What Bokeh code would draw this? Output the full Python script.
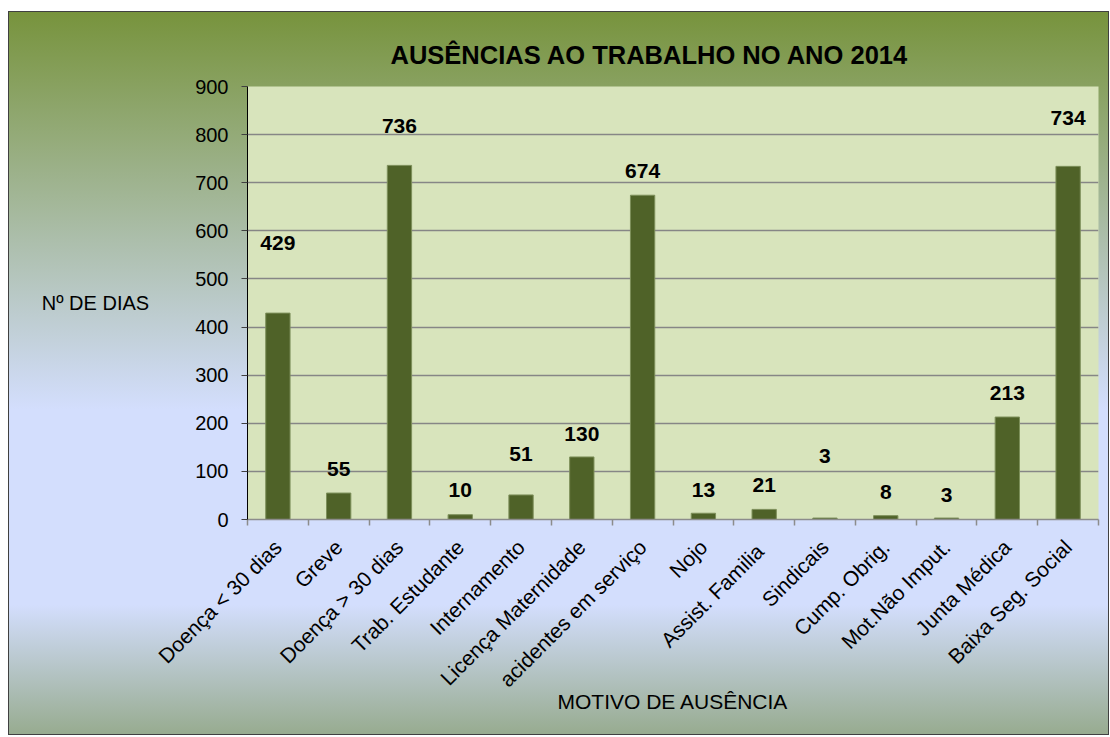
import math
import numpy as np
from bokeh.plotting import figure
from bokeh.models import ColumnDataSource, LabelSet, Range1d, FixedTicker
from bokeh.core.properties import value
from bokeh.embed import file_html
from bokeh.resources import INLINE

categories = ["Doença < 30 dias", "Greve", "Doença > 30 dias", "Trab. Estudante",
              "Internamento", "Licença Maternidade", "acidentes em serviço", "Nojo",
              "Assist.  Familia", "Sindicais", "Cump. Obrig.", "Mot.Não Imput.",
              "Junta Médica", "Baixa Seg. Social"]
values = [429, 55, 736, 10, 51, 130, 674, 13, 21, 3, 8, 3, 213, 734]
# heights (in data units) at which the value labels sit in the original
label_heights = [574, 104, 818, 61, 136, 177, 724, 61, 71, 132, 57, 51, 262, 835]
y_ticks = [0, 100, 200, 300, 400, 500, 600, 700, 800, 900]

FONT = "Liberation Sans"

n = len(categories)
xc = np.arange(n) + 0.5
src = ColumnDataSource(dict(x=xc, top=values, ly=label_heights,
                            txt=[str(v) for v in values]))

p = figure(width=1101, height=724, x_range=Range1d(0, n), y_range=Range1d(0, y_ticks[-1]),
           output_backend="svg", toolbar_location=None,
           min_border_left=239, min_border_right=11, min_border_top=75, min_border_bottom=216,
           background_fill_color="#d8e4bc", border_fill_color=None, outline_line_color=None)
p.margin = (11, 0, 0, 8)
p.styles = {
    "background": "linear-gradient(to bottom, #77933c 0%, #d3defd 55%, #d3defd 82%, #97ab8f 100%)",
    "outline": "1px solid #404040",
    "outline-offset": "-1px",
}

p.vbar(x="x", top="top", width=0.4, source=src, fill_color="#4f6228", line_color="#7d8f5a", line_width=1)

labels = LabelSet(x="x", y="ly", text="txt", source=src, text_align="center",
                  text_baseline="middle", text_font=value(FONT), text_font_size="21px",
                  text_font_style="bold", text_color="black")
p.add_layout(labels)

# title
p.title.text = "AUSÊNCIAS AO TRABALHO NO ANO 2014"
p.title.align = "left"
p.title.offset = 143
p.title.standoff = 35
p.title.text_font = FONT
p.title.text_font_size = "25.5px"
p.title.text_font_style = "bold"
p.title.text_color = "black"

# x axis
xa = p.xaxis[0]
xa.ticker = FixedTicker(ticks=list(xc), minor_ticks=list(range(n + 1)))
xa.major_label_overrides = {float(x): c for x, c in zip(xc, categories)}
xa.major_label_orientation = math.pi / 4
xa.major_tick_out = 0
xa.major_tick_in = 0
xa.minor_tick_out = 6
xa.minor_tick_in = 0
xa.minor_tick_line_color = "#8c8c8c"
xa.minor_tick_line_width = 1.5
xa.axis_line_color = "#8c8c8c"
xa.axis_line_width = 1.5
xa.major_label_text_font = FONT
xa.major_label_text_font_size = "21px"
xa.major_label_text_color = "black"
xa.major_label_standoff = 18
xa.axis_label = "MOTIVO DE AUSÊNCIA"
xa.axis_label_text_font = FONT
xa.axis_label_text_font_size = "21px"
xa.axis_label_text_font_style = "normal"
xa.axis_label_text_color = "black"
xa.axis_label_standoff = -12

# y axis
ya = p.yaxis[0]
ya.ticker = FixedTicker(ticks=y_ticks)
ya.minor_tick_line_color = None
ya.major_tick_out = 6
ya.major_tick_in = 0
ya.major_tick_line_color = "#404040"
ya.axis_line_color = "black"
ya.major_label_text_font = FONT
ya.major_label_text_font_size = "20px"
ya.major_label_text_color = "black"
ya.major_label_standoff = 13
ya.axis_label = "Nº DE DIAS"
ya.axis_label_orientation = "horizontal"
ya.axis_label_text_font = FONT
ya.axis_label_text_font_size = "20px"
ya.axis_label_text_font_style = "normal"
ya.axis_label_text_color = "black"
ya.axis_label_standoff = 43

p.xgrid.grid_line_color = None
p.ygrid.ticker = FixedTicker(ticks=y_ticks)
p.ygrid.grid_line_color = "#868686"
p.ygrid.grid_line_width = 1.5

open("out.html", "w").write(file_html(p, INLINE))
